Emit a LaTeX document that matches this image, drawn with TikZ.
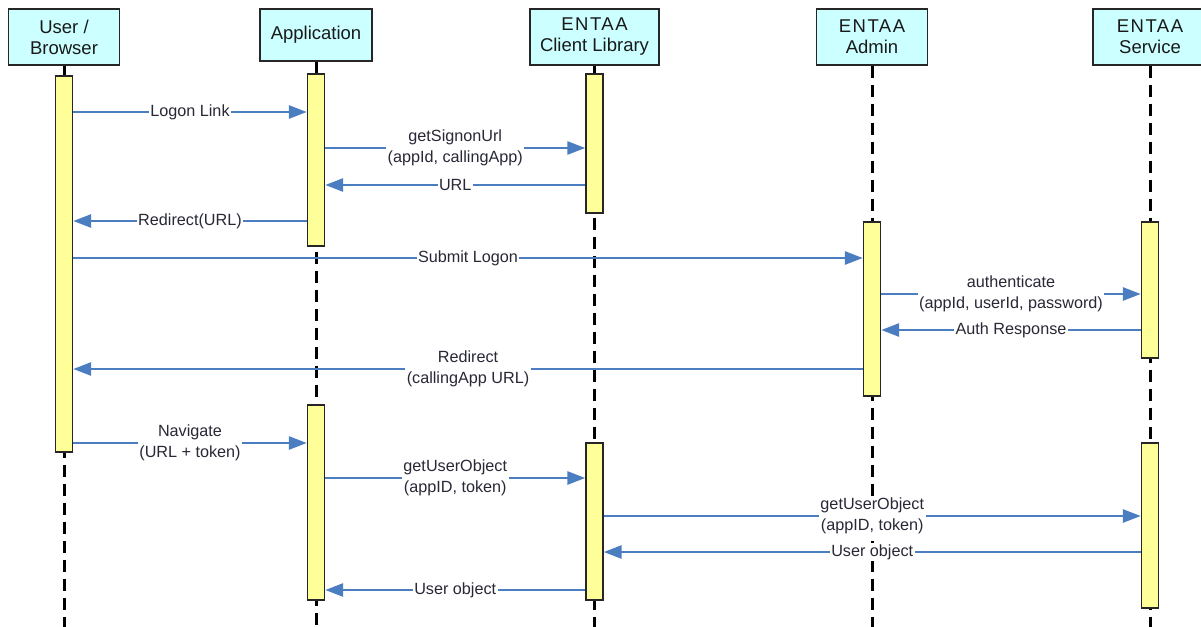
\documentclass[tikz,border=0pt]{standalone}
\usepackage{fontspec}
\setmainfont{Liberation Sans}
\usetikzlibrary{arrows.meta,calc}
\definecolor{msgblue}{RGB}{74,126,193}
\definecolor{headfill}{RGB}{204,255,255}
\definecolor{barfill}{RGB}{255,255,153}
\definecolor{labelgray}{RGB}{40,40,55}
\begin{document}
\begin{tikzpicture}[x=1pt,y=-1pt,
  head/.style={draw=black!85,line width=1.4pt,fill=headfill,inner sep=0pt,
    align=center,font=\fontsize{18.5}{21}\selectfont,text=black!90},
  bar/.style={draw=black!85,line width=1.4pt,fill=barfill,minimum width=17pt,inner sep=0pt},
  life/.style={line width=3pt,dash pattern=on 12pt off 7pt},
  msg/.style={draw=msgblue,line width=2.8pt,-{Triangle[length=18pt,width=13pt]}},
  lbl/.style={fill=white,text=labelgray,inner sep=1.5pt,align=center,
    font=\fontsize{16.2}{21}\selectfont}]
\useasboundingbox (0,0) rectangle (1201,626);

% participants
\node[head,minimum width=111pt,minimum height=56pt] (hu) at (64,37) {User /\\Browser};
\node[head,minimum width=112pt,minimum height=52pt] (ha) at (316,35) {Application};
\node[head,minimum width=129pt,minimum height=56pt] (hc) at (594.5,37) {\addfontfeature{LetterSpace=8}ENTAA\\Client Library};
\node[head,minimum width=111pt,minimum height=56pt] (hd) at (872,37) {\addfontfeature{LetterSpace=8}ENTAA\\Admin};
\node[head,minimum width=114pt,minimum height=56pt] (hs) at (1150,37) {\addfontfeature{LetterSpace=8}ENTAA\\Service};

% lifelines
\coordinate (bottom) at (0,632);
\foreach \h in {hu,ha,hc,hd,hs}
  \draw[life] (\h.south) -- (\h.south |- bottom);

% activation bars
\node[bar,minimum height=376pt] (ub)  at (64,264) {};
\node[bar,minimum height=172pt] (ab1) at (316,160) {};
\node[bar,minimum height=195pt] (ab2) at (316,502.5) {};
\node[bar,minimum height=139pt] (cb1) at (594.5,143.5) {};
\node[bar,minimum height=157pt] (cb2) at (594.5,521.5) {};
\node[bar,minimum height=174pt] (db)  at (872,309) {};
\node[bar,minimum height=136pt] (sb1) at (1150,290) {};
\node[bar,minimum height=165pt] (sb2) at (1150,525.5) {};

% message rows
\coordinate (m1) at (0,112);
\coordinate (m2) at (0,148);
\coordinate (m3) at (0,185);
\coordinate (m4) at (0,221);
\coordinate (m5) at (0,258);
\coordinate (m6) at (0,294);
\coordinate (m7) at (0,330);
\coordinate (m8) at (0,369);
\coordinate (m9) at (0,443);
\coordinate (m10) at (0,478);
\coordinate (m11) at (0,516);
\coordinate (m12) at (0,552);
\coordinate (m13) at (0,590);

% messages
\draw[msg] (ub.east |- m1) -- node[lbl]{Logon Link} (ab1.west |- m1);
\draw[msg] (ab1.east |- m2) -- node[lbl]{getSignonUrl\\(appId, callingApp)} (cb1.west |- m2);
\draw[msg] (cb1.west |- m3) -- node[lbl]{URL} (ab1.east |- m3);
\draw[msg] (ab1.west |- m4) -- node[lbl]{Redirect(URL)} (ub.east |- m4);
\draw[msg] (ub.east |- m5) -- node[lbl]{Submit Logon} (db.west |- m5);
\draw[msg] (db.east |- m6) -- node[lbl]{authenticate\\(appId, userId, password)} (sb1.west |- m6);
\draw[msg] (sb1.west |- m7) -- node[lbl]{Auth Response} (db.east |- m7);
\draw[msg] (db.west |- m8) -- node[lbl]{Redirect\\(callingApp URL)} (ub.east |- m8);
\draw[msg] (ub.east |- m9) -- node[lbl]{Navigate\\(URL + token)} (ab2.west |- m9);
\draw[msg] (ab2.east |- m10) -- node[lbl]{getUserObject\\(appID, token)} (cb2.west |- m10);
\draw[msg] (cb2.east |- m11) -- node[lbl]{getUserObject\\(appID, token)} (sb2.west |- m11);
\draw[msg] (sb2.west |- m12) -- node[lbl]{User object} (cb2.east |- m12);
\draw[msg] (cb2.west |- m13) -- node[lbl]{User object} (ab2.east |- m13);
\end{tikzpicture}
\end{document}
